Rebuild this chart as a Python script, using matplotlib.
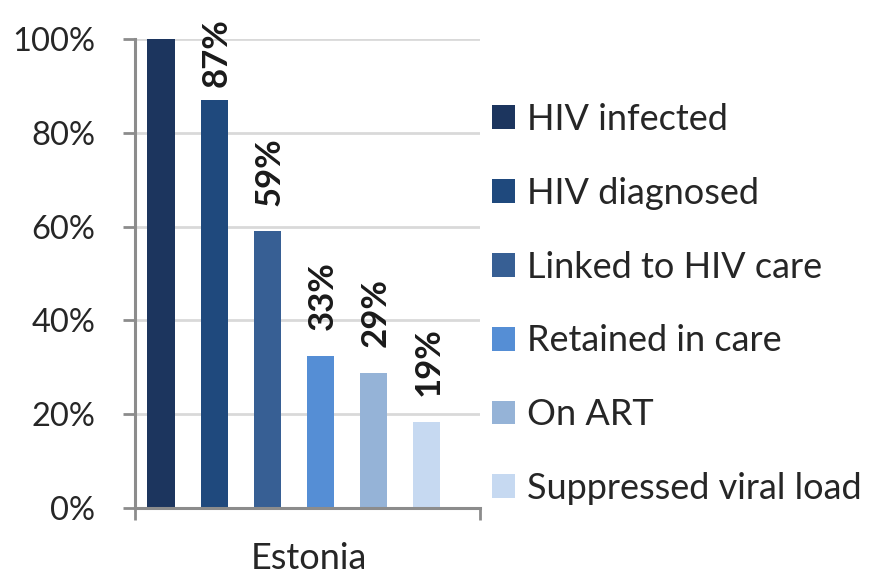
import matplotlib
matplotlib.use("Agg")
import matplotlib.pyplot as plt
from matplotlib.ticker import FixedLocator

plt.rcParams['font.family'] = ['Lato', 'DejaVu Sans']

# ---- data ----
category = "Estonia"
stages = ["HIV infected", "HIV diagnosed", "Linked to HIV care",
          "Retained in care", "On ART", "Suppressed viral load"]
values = [100, 87, 59, 32.5, 28.8, 18.4]
value_labels = ["", "87%", "59%", "33%", "29%", "19%"]
colors = ["#1c355e", "#1f497d", "#375f94", "#558ed5", "#95b3d7", "#c6d9f1"]
yticks = [0, 20, 40, 60, 80, 100]
ytick_labels = ["0%", "20%", "40%", "60%", "80%", "100%"]

W, H = 876, 574
fig = plt.figure(figsize=(W / 100, H / 100), dpi=100)
ax = fig.add_axes([135 / W, 1 - 508 / H, (480 - 135) / W, (508 - 39) / H])

axis_gray = "#8c8c8c"
grid_gray = "#d9d9d9"
text_col = "#262626"

bars = []
for i, (s, v, c) in enumerate(zip(stages, values, colors)):
    b = ax.bar(i, v, width=0.51, color=c, label=s, zorder=3)
    bars.append(b)

ax.set_xlim(-0.49, 6.0)
ax.set_ylim(0, 100)

# grid
ax.set_yticks(yticks)
ax.set_yticklabels(ytick_labels)
ax.yaxis.grid(True, color=grid_gray, linewidth=2, zorder=0)
ax.set_axisbelow(True)

for sp in ["top", "right"]:
    ax.spines[sp].set_visible(False)
for sp in ["left", "bottom"]:
    ax.spines[sp].set_color(axis_gray)
    ax.spines[sp].set_linewidth(2.2)
    ax.spines[sp].set_zorder(4)

ax.tick_params(axis="y", length=8.6, width=2, color=axis_gray, pad=20,
               labelsize=23.5, labelcolor=text_col)
# x ticks at category edges
ax.xaxis.set_major_locator(FixedLocator([-0.49, 6.0]))
ax.tick_params(axis="x", length=8.6, width=2, color=axis_gray, labelbottom=False)

# category label
fig.text(309 / W, 1 - 569 / H, category, ha="center", va="baseline",
         fontsize=26, color=text_col)

# value labels
fig.canvas.draw()
renderer = fig.canvas.get_renderer()
for i, (v, lab) in enumerate(zip(values, value_labels)):
    if not lab:
        continue
    t = ax.annotate(lab, xy=(i, v), xytext=(1.5, 18.5), textcoords="offset points",
                    ha="center", va="bottom", rotation=90, fontsize=25,
                    fontweight="bold", color="#1a1a1a", zorder=5)
    bb = t.get_window_extent(renderer)
    top_px = H - bb.y1
    if top_px < 18:
        shift = (18 - top_px) * 72 / 100
        t.set_position((1.5, 18.5 - shift))

# legend
leg = fig.legend(handles=[b[0] for b in bars], labels=stages,
                 loc="upper left", bbox_to_anchor=(492 / W, 1 - 103 / H),
                 frameon=False, fontsize=26, handlelength=0.64,
                 handleheight=0.64, handletextpad=0.32, labelspacing=1.13,
                 borderpad=0, borderaxespad=0)
for t in leg.get_texts():
    t.set_color(text_col)

fig.savefig("out.png", dpi=100)
